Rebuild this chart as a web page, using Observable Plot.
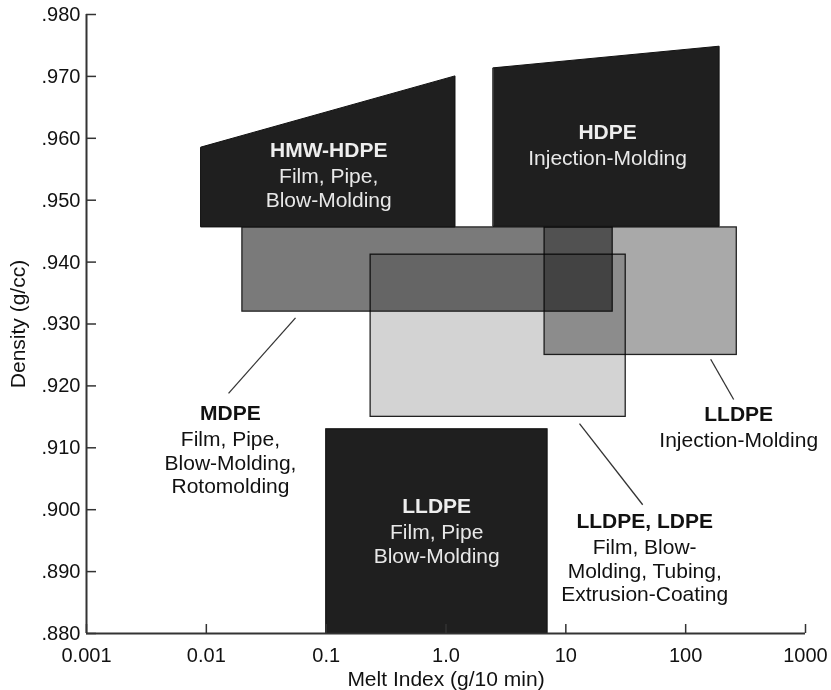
<!DOCTYPE html>
<html><head><meta charset="utf-8">
<script src="https://cdn.jsdelivr.net/npm/d3@7"></script>
<script src="https://cdn.jsdelivr.net/npm/@observablehq/plot@0.6"></script>
<style>body{margin:0;background:#fff}</style>
</head><body><div id="chart"></div>
<script>
// Axis ticks
const xTicks = [0.001, 0.01, 0.1, 1, 10, 100, 1000];
const xTickLabels = ["0.001", "0.01", "0.1", "1.0", "10", "100", "1000"];
const yTicks = [0.88, 0.89, 0.90, 0.91, 0.92, 0.93, 0.94, 0.95, 0.96, 0.97, 0.98];
const yTickLabels = [".880", ".890", ".900", ".910", ".920", ".930", ".940", ".950", ".960", ".970", ".980"];

// Rectangular regions (melt index range, density range)
const rectNames = ["LLDPE, LDPE", "LLDPE Inj", "MDPE", "LLDPE Film"];
const rectMI1 = [0.235, 6.65, 0.020, 0.1];
const rectMI2 = [31.6, 267, 24.6, 7.05];
const rectD1 = [0.915, 0.925, 0.932, 0.880];
const rectD2 = [0.9412, 0.9456, 0.9456, 0.913];

// Trapezoid regions: melt index at left/right, base density, top density at left/right
const trapNames = ["HMW-HDPE", "HDPE"];
const trapMI1 = [0.0091, 2.5];
const trapMI2 = [1.2, 192];
const trapBase = [0.9456, 0.9457];
const trapTop1 = [0.9585, 0.9713];
const trapTop2 = [0.970, 0.9748];

// Labels
const labelTitles = ["HMW-HDPE", "HDPE", "MDPE", "LLDPE", "LLDPE, LDPE", "LLDPE"];
const labelSubs = ["Film, Pipe,\nBlow-Molding", "Injection-Molding", "Film, Pipe,\nBlow-Molding,\nRotomolding", "Injection-Molding", "Film, Blow-\nMolding, Tubing,\nExtrusion-Coating", "Film, Pipe\nBlow-Molding"];
const labelMI = [0.105, 22.3, 0.0159, 277, 45.5, 0.836];
const labelD = [0.9580, 0.9609, 0.9155, 0.9154, 0.8981, 0.9005];
const labelInside = [true, true, false, false, false, true];

// Leader lines
const leaderMI1 = [0.0555, 161.7, 13.0];
const leaderD1 = [0.9310, 0.9243, 0.9139];
const leaderMI2 = [0.01532, 251.6, 43.8];
const leaderD2 = [0.9188, 0.9178, 0.9008];

const rects = rectNames.map((name, i) => ({name, x1: rectMI1[i], x2: rectMI2[i], y1: rectD1[i], y2: rectD2[i]}));
const traps = trapNames.map((name, i) => [
  {name, x: trapMI1[i], y1: trapBase[i], y2: trapTop1[i]},
  {name, x: trapMI2[i], y1: trapBase[i], y2: trapTop2[i]}
]);
const labels = labelTitles.map((t, i) => ({title: t, sub: labelSubs[i], x: labelMI[i], y: labelD[i], inside: labelInside[i]}));
const leaders = leaderMI1.map((d, i) => ({x1: d, y1: leaderD1[i], x2: leaderMI2[i], y2: leaderD2[i]}));

const grayFill = {"LLDPE, LDPE": "#d3d3d3", "LLDPE Inj": "#a9a9a9", "MDPE": "#7a7a7a"};
const W = 831, H = 690, ML = 86, MR = 26, MT = 14, MB = 57;
const FS = 21, TFS = 20;
const font = "'Liberation Sans', Arial, Helvetica, sans-serif";

const chart = Plot.plot({
  width: W, height: H,
  marginLeft: ML, marginRight: MR, marginTop: MT, marginBottom: MB,
  style: {fontSize: FS + "px", fontFamily: font, background: "#fff", color: "#111"},
  x: {type: "log", domain: [0.001, 1000]},
  y: {domain: [0.88, 0.98]},
  color: {type: "identity"},
  marks: [
    Plot.rect(rects.filter(d => d.name !== "LLDPE Film"), {
      x1: "x1", x2: "x2", y1: "y1", y2: "y2",
      fill: d => grayFill[d.name], stroke: "#222", strokeWidth: 1.3, mixBlendMode: "multiply"
    }),
    Plot.rect(rects.filter(d => d.name === "LLDPE Film"), {
      x1: "x1", x2: "x2", y1: "y1", y2: "y2", fill: "#1f1f1f", stroke: "#111"
    }),
    ...traps.map(t => Plot.areaY(t, {x: "x", y1: "y1", y2: "y2", fill: "#1f1f1f", stroke: "#111", strokeWidth: 1})),
    Plot.tickY(yTicks, {y: d => d, stroke: "#333", strokeWidth: 1.5, insetRight: (W - ML - MR) - 10}),
    Plot.tickX(xTicks, {x: d => d, stroke: "#333", strokeWidth: 1.5, insetTop: (H - MT - MB) - 9}),
    Plot.ruleX([0.001], {stroke: "#333", strokeWidth: 2}),
    Plot.ruleY([0.88], {stroke: "#333", strokeWidth: 2}),
    Plot.axisY({ticks: yTicks, tickSize: 0, tickPadding: 6, label: null,
      tickFormat: d => yTickLabels[yTicks.indexOf(d)], fontSize: TFS, fill: "#111"}),
    Plot.axisX({ticks: xTicks, tickSize: 0, tickPadding: 14, label: null,
      tickFormat: d => xTickLabels[xTicks.indexOf(d)], fontSize: TFS, fill: "#111"}),
    Plot.text(["Density (g/cc)"], {frameAnchor: "left", dx: -68, rotate: -90, fontSize: FS, fill: "#111", textAnchor: "middle"}),
    Plot.text(["Melt Index (g/10 min)"], {frameAnchor: "bottom", dy: 46, fontSize: FS, fill: "#111", lineAnchor: "middle"}),
    Plot.link(leaders, {x1: "x1", y1: "y1", x2: "x2", y2: "y2", stroke: "#333", strokeWidth: 1.3}),
    Plot.text(labels, {x: "x", y: "y", text: "title", fontWeight: "bold", fontSize: FS,
      fill: d => d.inside ? "#eeeeee" : "#111111", lineAnchor: "middle"}),
    Plot.text(labels, {x: "x", y: "y", text: "sub", fontSize: FS, lineHeight: 1.12,
      fill: d => d.inside ? "#e8e8e8" : "#111111", lineAnchor: "top", dy: 16})
  ]
});
document.getElementById("chart").appendChild(chart);
</script></body></html>
